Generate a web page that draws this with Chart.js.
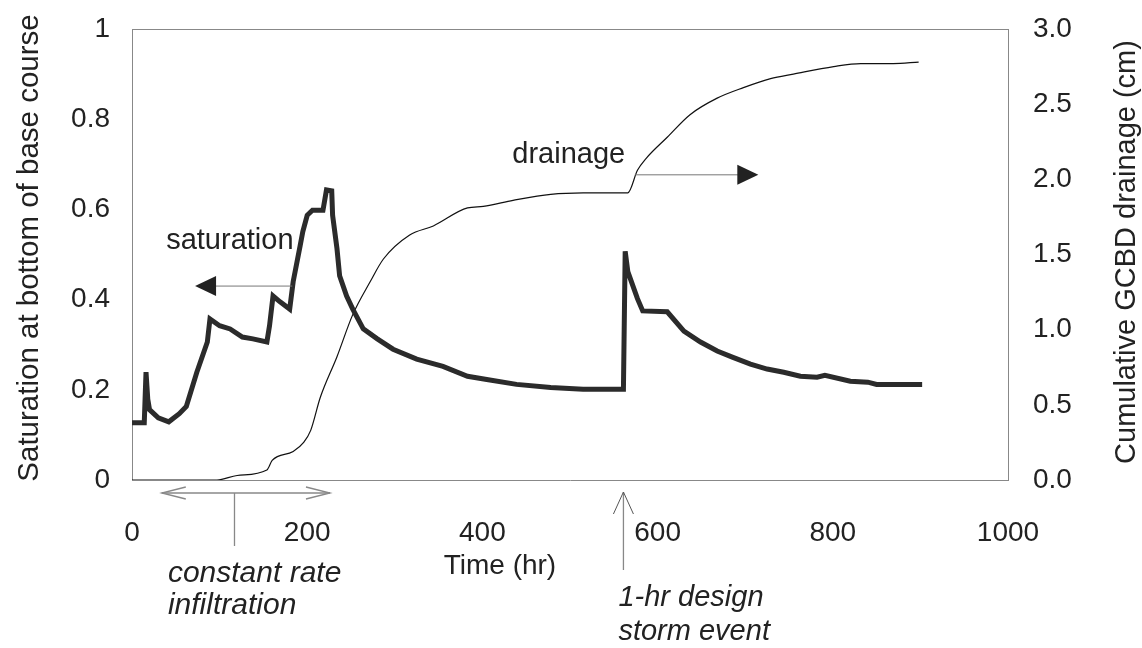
<!DOCTYPE html>
<html>
<head>
<meta charset="utf-8">
<script src="https://cdn.jsdelivr.net/npm/chart.js@4.4.0/dist/chart.umd.min.js"></script>
<style>
  html, body { margin: 0; padding: 0; background: #fff; }
  #wrap { width: 1142px; height: 648px; }
</style>
</head>
<body>
<div id="wrap"><canvas id="c" width="1142" height="648"></canvas></div>
<script>
// saturation at bottom of base course (left axis), time in hr
const satTime = [0, 14, 16, 18, 20, 30, 42, 54, 62, 74, 86, 89, 100, 112, 126, 138, 154, 157, 161, 169, 180,
  184, 192, 195, 200, 206, 218, 222, 228, 229, 234, 237, 245, 252, 264, 280, 298, 325, 355, 383, 405,
  439, 478, 515, 561, 563, 566, 577, 583, 611, 630, 649, 668, 686, 706, 725, 744, 763, 782, 791, 820,
  840, 850, 902];
const satValue = [0.127, 0.127, 0.239, 0.179, 0.156, 0.138, 0.129, 0.147, 0.163, 0.239, 0.306, 0.357, 0.342,
  0.335, 0.317, 0.313, 0.306, 0.342, 0.408, 0.395, 0.379, 0.44, 0.52, 0.551, 0.587, 0.598, 0.598, 0.643,
  0.641, 0.587, 0.513, 0.453, 0.408, 0.379, 0.335, 0.313, 0.29, 0.268, 0.252, 0.23, 0.223, 0.212, 0.205,
  0.201, 0.201, 0.507, 0.462, 0.402, 0.375, 0.373, 0.33, 0.306, 0.286, 0.272, 0.257, 0.246, 0.239, 0.23,
  0.228, 0.232, 0.219, 0.217, 0.212, 0.212];

// cumulative GCBD drainage in cm (right axis)
const drainTime = [0, 97, 120, 154, 160, 184, 196, 204, 215, 234, 252, 272, 287, 317, 344, 383, 401, 435,
  478, 515, 566, 577, 587, 611, 637, 668, 698, 729, 755, 801, 832, 869, 898];
const drainValue = [0, 0, 0.03, 0.067, 0.13, 0.19, 0.25, 0.33, 0.55, 0.82, 1.1, 1.32, 1.47, 1.63, 1.69,
  1.81, 1.82, 1.86, 1.9, 1.91, 1.91, 2.06, 2.14, 2.28, 2.43, 2.54, 2.61, 2.67, 2.7, 2.75, 2.77, 2.77, 2.78];

const xTicks = [0, 200, 400, 600, 800, 1000];
const satTicks = [0, 0.2, 0.4, 0.6, 0.8, 1];
const drainTicks = [0, 0.5, 1.0, 1.5, 2.0, 2.5, 3.0];

const FONT = '"Liberation Sans", Arial, Helvetica, sans-serif';
const INK = '#222';

function pairs(xs, ys) {
  return xs.map((x, i) => ({ x: x, y: ys[i] }));
}

function arrowHead(ctx, x, y, dir, len, half, filled) {
  ctx.beginPath();
  if (dir === 'left') { ctx.moveTo(x + len, y - half); ctx.lineTo(x, y); ctx.lineTo(x + len, y + half); }
  if (dir === 'right') { ctx.moveTo(x - len, y - half); ctx.lineTo(x, y); ctx.lineTo(x - len, y + half); }
  if (dir === 'up') { ctx.moveTo(x - half, y + len); ctx.lineTo(x, y); ctx.lineTo(x + half, y + len); }
  if (filled) { ctx.closePath(); ctx.fill(); } else { ctx.stroke(); }
}

// fixed box sizes so the plot area sits where the reference has it
function fixBox(w, h) {
  return s => {
    if (w) s.width = w;
    if (h) s.height = h;
    s.paddingTop = 0; s.paddingBottom = 0; s.paddingLeft = 0; s.paddingRight = 0;
  };
}

// texts, arrows, titles, top frame line
const notes = {
  id: 'notes',
  afterDraw(chart) {
    const ctx = chart.ctx;
    const xs = chart.scales.x, ys = chart.scales.y, y2 = chart.scales.y2;
    const area = chart.chartArea;
    ctx.save();

    // top frame
    ctx.strokeStyle = '#888';
    ctx.lineWidth = 1;
    ctx.beginPath();
    ctx.moveTo(area.left, area.top + 0.5);
    ctx.lineTo(area.right, area.top + 0.5);
    ctx.stroke();

    ctx.fillStyle = INK;
    ctx.textBaseline = 'middle';

    // axis titles
    ctx.font = '29.5px ' + FONT;
    ctx.save();
    ctx.translate(30, 248);
    ctx.rotate(-Math.PI / 2);
    ctx.textAlign = 'center';
    ctx.fillText('Saturation at bottom of base course', 0, 0);
    ctx.restore();
    ctx.font = '29px ' + FONT;
    ctx.save();
    ctx.translate(1127, 252);
    ctx.rotate(-Math.PI / 2);
    ctx.textAlign = 'center';
    ctx.fillText('Cumulative GCBD drainage (cm)', 0, 0);
    ctx.restore();
    ctx.font = '28px ' + FONT;
    ctx.textAlign = 'center';
    ctx.fillText('Time (hr)', xs.getPixelForValue(420), 566);

    // saturation label + arrow
    ctx.font = '29px ' + FONT;
    ctx.textAlign = 'left';
    ctx.fillText('saturation', xs.getPixelForValue(39), ys.getPixelForValue(0.53));
    let ay = ys.getPixelForValue(0.43);
    let ax0 = xs.getPixelForValue(183), ax1 = xs.getPixelForValue(72);
    ctx.strokeStyle = '#777';
    ctx.lineWidth = 1;
    ctx.beginPath(); ctx.moveTo(ax0, ay); ctx.lineTo(ax1 + 18, ay); ctx.stroke();
    arrowHead(ctx, ax1, ay, 'left', 21, 10, true);

    // drainage label + arrow
    ctx.textAlign = 'right';
    ctx.fillText('drainage', xs.getPixelForValue(563), y2.getPixelForValue(2.16));
    ay = y2.getPixelForValue(2.03);
    ax0 = xs.getPixelForValue(574); ax1 = xs.getPixelForValue(715);
    ctx.beginPath(); ctx.moveTo(ax0, ay); ctx.lineTo(ax1 - 18, ay); ctx.stroke();
    arrowHead(ctx, ax1, ay, 'right', 21, 10, true);

    // constant rate infiltration marker (below axis)
    const by = area.bottom + 13;
    const bx0 = xs.getPixelForValue(34), bx1 = xs.getPixelForValue(226);
    ctx.strokeStyle = '#888';
    ctx.lineWidth = 1.3;
    ctx.beginPath(); ctx.moveTo(bx0, by); ctx.lineTo(bx1, by); ctx.stroke();
    ctx.beginPath();
    ctx.moveTo(bx0 + 24, by - 6); ctx.lineTo(bx0, by); ctx.lineTo(bx0 + 24, by + 6);
    ctx.moveTo(bx1 - 24, by - 6); ctx.lineTo(bx1, by); ctx.lineTo(bx1 - 24, by + 6);
    ctx.stroke();
    const vx = xs.getPixelForValue(117);
    ctx.beginPath(); ctx.moveTo(vx, by); ctx.lineTo(vx, by + 53); ctx.stroke();

    ctx.font = 'italic 30px ' + FONT;
    ctx.textAlign = 'left';
    ctx.fillText('constant rate', xs.getPixelForValue(41), 574);
    ctx.fillText('infiltration', xs.getPixelForValue(41), 606);

    // storm event marker
    const sx = xs.getPixelForValue(561);
    ctx.beginPath(); ctx.moveTo(sx, area.bottom + 12); ctx.lineTo(sx, area.bottom + 90); ctx.stroke();
    ctx.lineWidth = 1;
    ctx.strokeStyle = '#555';
    arrowHead(ctx, sx, area.bottom + 12, 'up', 22, 10, false);
    ctx.font = 'italic 29px ' + FONT;
    ctx.fillText('1-hr design', sx - 5, 598);
    ctx.fillText('storm event', sx - 5, 632);

    ctx.restore();
  }
};

new Chart(document.getElementById('c'), {
  type: 'line',
  data: {
    datasets: [
      {
        label: 'saturation',
        data: pairs(satTime, satValue),
        yAxisID: 'y',
        borderColor: '#2b2b2b',
        borderWidth: 5,
        pointRadius: 0,
        tension: 0
      },
      {
        label: 'drainage',
        data: pairs(drainTime, drainValue),
        yAxisID: 'y2',
        borderColor: '#111',
        borderWidth: 1.2,
        pointRadius: 0,
        cubicInterpolationMode: 'monotone'
      }
    ]
  },
  options: {
    responsive: false,
    animation: false,
    layout: { padding: { top: 29, left: 0, right: 0, bottom: 0 } },
    plugins: { legend: { display: false }, tooltip: { enabled: false } },
    scales: {
      x: {
        type: 'linear',
        min: 0, max: 1000,
        afterBuildTicks: s => { s.ticks = xTicks.map(v => ({ value: v })); },
        afterFit: fixBox(0, 168),
        grid: { display: false, drawTicks: false },
        border: { display: true, color: '#888', width: 1 },
        ticks: { color: INK, font: { family: FONT, size: 28 }, padding: 36, maxRotation: 0, callback: v => String(v) }
      },
      y: {
        position: 'left',
        min: 0, max: 1,
        afterBuildTicks: s => { s.ticks = satTicks.map(v => ({ value: v })); },
        afterFit: fixBox(132, 0),
        grid: { display: false, drawTicks: false },
        border: { display: true, color: '#888', width: 1 },
        ticks: {
          color: INK, font: { family: FONT, size: 28 }, padding: 22,
          callback: v => (v === 0 || v === 1) ? String(v) : v.toFixed(1)
        }
      },
      y2: {
        position: 'right',
        min: 0, max: 3,
        afterBuildTicks: s => { s.ticks = drainTicks.map(v => ({ value: v })); },
        afterFit: fixBox(134, 0),
        grid: { display: false, drawTicks: false },
        border: { display: true, color: '#888', width: 1 },
        ticks: { color: INK, font: { family: FONT, size: 28 }, padding: 25, callback: v => v.toFixed(1) }
      }
    }
  },
  plugins: [notes]
});
</script>
</body>
</html>
